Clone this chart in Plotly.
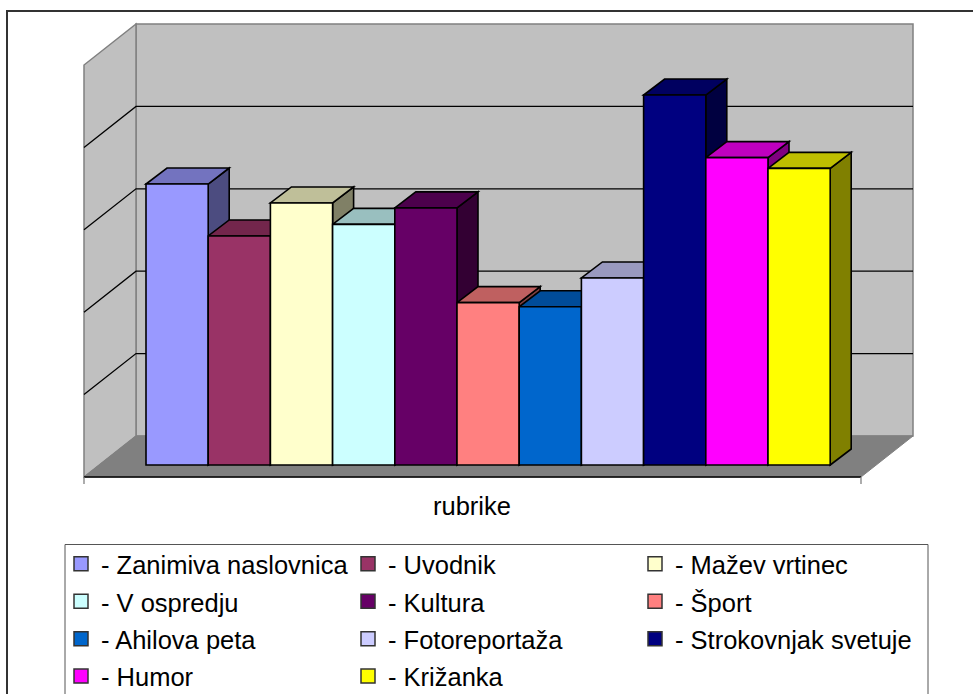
import plotly.graph_objects as go

categories = ["- Zanimiva naslovnica", "- Uvodnik", "- Mažev vrtinec", "- V ospredju", "- Kultura",
              "- Šport", "- Ahilova peta", "- Fotoreportaža", "- Strokovnjak svetuje", "- Humor", "- Križanka"]
values = [3.41, 2.78, 3.18, 2.92, 3.12, 1.97, 1.92, 2.27, 4.49, 3.73, 3.60]
colors = ["#9999FF", "#993366", "#FFFFCC", "#CCFFFF", "#660066", "#FF8080",
          "#0066CC", "#CCCCFF", "#000080", "#FF00FF", "#FFFF00"]
grid_levels = [0, 1, 2, 3, 4, 5]
axis_title = "rubrike"

W, H = 973, 694
PX_X, PX_Y = 62.2, 82.4            # pixels per category / per value unit
BAR_LEFT_PX, BAR_BASE_PX = 146, 465
FONT = "Liberation Sans"


def shade(hex_color, f):
    r, g, b = (int(hex_color[i:i + 2], 16) for i in (1, 3, 5))
    return f"rgb({round(r * f)},{round(g * f)},{round(b * f)})"


def path(points):
    return "M " + " L ".join(f"{x:.4f},{y:.4f}" for x, y in points) + " Z"


xmin = -0.5 - BAR_LEFT_PX / PX_X
xmax = xmin + W / PX_X
ymin = -(H - BAR_BASE_PX) / PX_Y
ymax = BAR_BASE_PX / PX_Y

# oblique projection offsets, in axis units
side_dx, side_dy = 21 / PX_X, 16 / PX_Y
back_dx, back_dy = 37 / PX_X, 29 / PX_Y
front_dx, front_dy = -15 / PX_X, -12 / PX_Y
x0 = -0.5 - 47 / PX_X
x1 = x0 + 777 / PX_X
top = grid_levels[-1]

shapes = []
GRAY = "#808080"
# back wall
shapes.append(dict(type="path", xref="x", yref="y", layer="below",
                   path=path([(x0 + back_dx, back_dy), (x1 + back_dx, back_dy),
                              (x1 + back_dx, top + back_dy), (x0 + back_dx, top + back_dy)]),
                   fillcolor="#C0C0C0", line=dict(color=GRAY, width=1.5)))
# left wall
shapes.append(dict(type="path", xref="x", yref="y", layer="below",
                   path=path([(x0 + front_dx, front_dy), (x0 + back_dx, back_dy),
                              (x0 + back_dx, top + back_dy), (x0 + front_dx, top + front_dy)]),
                   fillcolor="#C0C0C0", line=dict(color=GRAY, width=1.5)))
# floor
shapes.append(dict(type="path", xref="x", yref="y", layer="below",
                   path=path([(x0 + front_dx, front_dy), (x1 + front_dx, front_dy),
                              (x1 + back_dx, back_dy), (x0 + back_dx, back_dy)]),
                   fillcolor=GRAY, line=dict(color=GRAY, width=1)))
# gridlines
for k in grid_levels[1:-1]:
    shapes.append(dict(type="path", xref="x", yref="y", layer="below",
                       path=f"M {x0 + front_dx:.4f},{k + front_dy:.4f} L {x0 + back_dx:.4f},{k + back_dy:.4f} "
                            f"L {x1 + back_dx:.4f},{k + back_dy:.4f}",
                       line=dict(color="#000000", width=1.3)))
# category axis line and end ticks
shapes.append(dict(type="line", xref="x", yref="y", layer="below",
                   x0=x0 + front_dx, x1=x1 + front_dx, y0=front_dy, y1=front_dy,
                   line=dict(color="#000000", width=1.3)))
for xe in (x0 + front_dx, x1 + front_dx):
    shapes.append(dict(type="line", xref="x", yref="y", layer="below",
                       x0=xe, x1=xe, y0=front_dy, y1=front_dy - 7 / PX_Y,
                       line=dict(color=GRAY, width=1.3)))

# bar tops and sides
for i, (v, c) in enumerate(zip(values, colors)):
    l, r = i - 0.5, i + 0.5
    shapes.append(dict(type="path", xref="x", yref="y", layer="below",
                       path=path([(r, 0), (r + side_dx, side_dy), (r + side_dx, v + side_dy), (r, v)]),
                       fillcolor=shade(c, 0.5), line=dict(color="#000000", width=1.6)))
    shapes.append(dict(type="path", xref="x", yref="y", layer="below",
                       path=path([(l, v), (r, v), (r + side_dx, v + side_dy), (l + side_dx, v + side_dy)]),
                       fillcolor=shade(c, 0.75), line=dict(color="#000000", width=1.6)))

# frame and legend box
shapes.append(dict(type="rect", xref="paper", yref="paper", layer="below",
                   x0=7 / W, x1=1.1, y0=-0.1, y1=1 - 11 / H,
                   fillcolor="rgba(0,0,0,0)", line=dict(color="#333333", width=2)))
shapes.append(dict(type="rect", xref="paper", yref="paper", layer="below",
                   x0=65 / W, x1=928 / W, y0=-0.1, y1=1 - 544.5 / H,
                   fillcolor="#FFFFFF", line=dict(color="#555555", width=1)))

fig = go.Figure()
for i, (name, v, c) in enumerate(zip(categories, values, colors)):
    fig.add_trace(go.Bar(x=[i], y=[v], width=1, name=name, marker=dict(color=c, line=dict(color="#000000", width=1.6)),
                         showlegend=False))
for name, c in zip(categories, colors):
    fig.add_trace(go.Scatter(x=[None], y=[None], mode="markers",
                             name=f'<span style="font-size:25.5px">{name}</span>',
                             marker=dict(symbol="square", size=14, color=c, line=dict(color="#333333", width=1.5))))

fig.update_layout(
    width=W, height=H, margin=dict(l=0, r=0, t=0, b=0, autoexpand=False), autosize=False,
    paper_bgcolor="#FFFFFF", plot_bgcolor="rgba(0,0,0,0)",
    font=dict(family=FONT, size=25.5, color="#000000"),
    xaxis=dict(range=[xmin, xmax], visible=False, fixedrange=True),
    yaxis=dict(range=[ymin, ymax], visible=False, fixedrange=True),
    barmode="overlay", shapes=shapes,
    legend=dict(orientation="h", x=61 / W, xanchor="left", y=1 - 540 / H, yanchor="top",
                bgcolor="rgba(0,0,0,0)", borderwidth=0, entrywidth=242, entrywidthmode="pixels",
                font=dict(family=FONT, size=26.5), itemclick=False, itemdoubleclick=False),
    annotations=[dict(text=axis_title, x=(x0 + x1) / 2 + front_dx, y=(BAR_BASE_PX - 506) / PX_Y, xref="x", yref="y",
                      xshift=-1, showarrow=False, font=dict(family=FONT, size=25.5),
                      xanchor="center", yanchor="middle")],
)
fig.write_html("out.html", post_script="document.body.style.margin='0';", config=dict(displayModeBar=False))
